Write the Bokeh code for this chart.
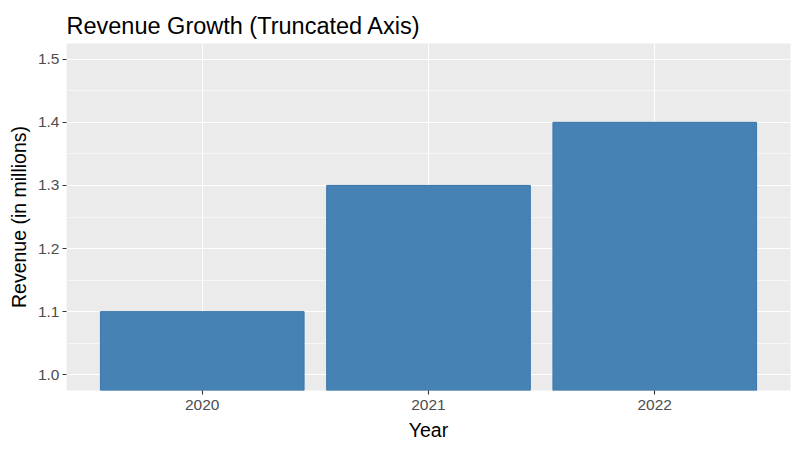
from bokeh.plotting import figure
from bokeh.models import Range1d, FactorRange, FixedTicker, ColumnDataSource, PrintfTickFormatter
from bokeh.embed import file_html
from bokeh.resources import INLINE

years = ["2020", "2021", "2022"]
revenue = [1.1, 1.3, 1.4]
y_ticks = [1.0, 1.1, 1.2, 1.3, 1.4, 1.5]
y_minor = [1.05, 1.15, 1.25, 1.35, 1.45]

FONT = "Liberation Sans"

src = ColumnDataSource(dict(year=years, revenue=revenue))

p = figure(
    width=800, height=451,
    x_range=FactorRange(*years, range_padding=0.2 / 3, range_padding_units="percent"),
    y_range=Range1d(0.975, 1.525),
    output_backend="svg", toolbar_location=None,
    min_border_left=66, min_border_right=10, min_border_top=43, min_border_bottom=61,
    title="Revenue Growth (Truncated Axis)",
)
p.title.text_font = FONT
p.title.text_font_size = "23.5px"
p.title.text_font_style = "normal"
p.title.text_color = "black"
p.title.align = "left"
p.title.offset = 0

p.background_fill_color = "#EBEBEB"
p.border_fill_color = "white"
p.outline_line_color = None

p.vbar(x="year", top="revenue", bottom=0, width=0.9, source=src,
       fill_color="#4682B4", line_color="#3A76AC", line_width=1)

p.yaxis.ticker = FixedTicker(ticks=y_ticks, minor_ticks=y_minor)
p.yaxis.formatter = PrintfTickFormatter(format="%.1f")
p.ygrid.grid_line_color = "white"
p.ygrid.grid_line_width = 1.1
p.ygrid.minor_grid_line_color = "white"
p.ygrid.minor_grid_line_width = 0.55
p.xgrid.grid_line_color = "white"
p.xgrid.grid_line_width = 1.1

for ax in (p.xaxis[0], p.yaxis[0]):
    ax.axis_line_color = None
    ax.major_tick_line_color = "#333333"
    ax.major_tick_line_width = 1.1
    ax.major_tick_out = 4
    ax.major_tick_in = 0
    ax.minor_tick_line_color = None
    ax.major_label_text_font = FONT
    ax.major_label_text_font_size = "15.5px"
    ax.major_label_text_color = "#4D4D4D"
    ax.axis_label_text_font = FONT
    ax.axis_label_text_font_size = "19.5px"
    ax.axis_label_text_font_style = "normal"
    ax.axis_label_text_color = "black"

p.xaxis.major_label_standoff = 5
p.xaxis.axis_label_standoff = 6
p.yaxis.major_label_standoff = 3
p.yaxis.axis_label_standoff = 5

p.xaxis.axis_label = "Year"
p.yaxis.axis_label = "Revenue (in millions)"
p.xaxis.major_label_orientation = "horizontal"

open("out.html", "w").write(file_html(p, INLINE))
